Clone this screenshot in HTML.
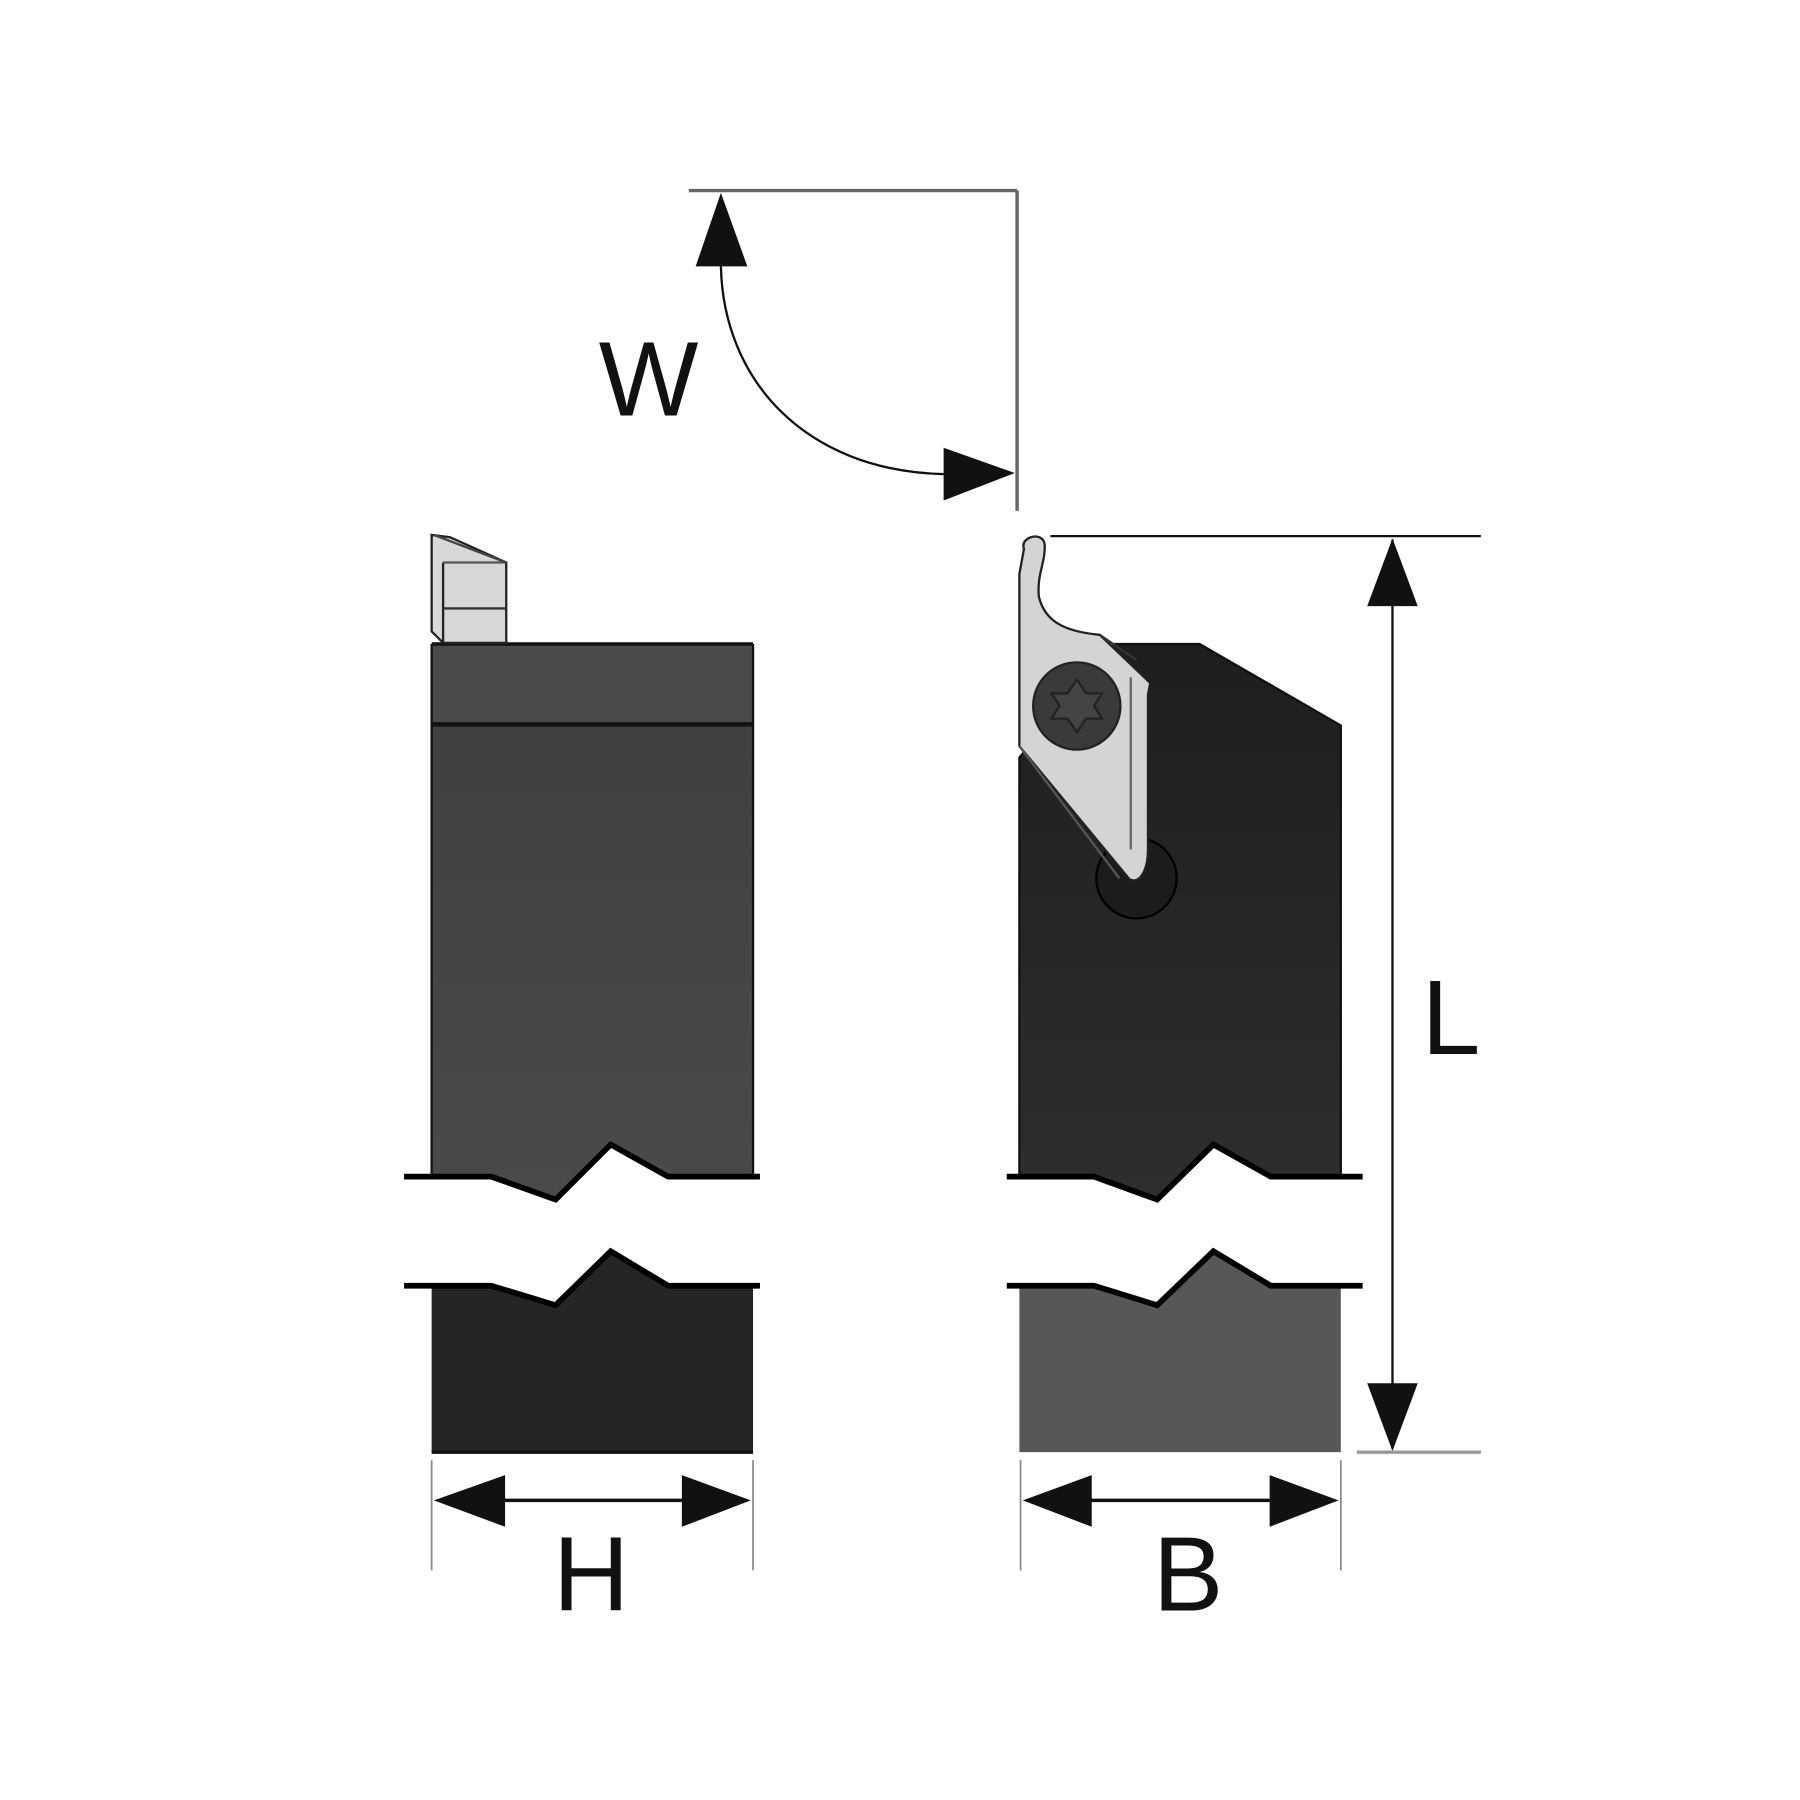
<!DOCTYPE html>
<html><head><meta charset="utf-8"><style>
html,body{margin:0;padding:0;background:#fff;}
svg{display:block;}
text{font-family:"Liberation Sans",sans-serif;fill:#111;}
</style></head><body>
<svg width="1800" height="1800" viewBox="0 0 1568 1568" xmlns="http://www.w3.org/2000/svg">
<defs>
<linearGradient id="gl" x1="0" y1="0" x2="0" y2="1"><stop offset="0" stop-color="#404040"/><stop offset="1" stop-color="#4a4a4a"/></linearGradient>
<linearGradient id="gr" x1="0" y1="0" x2="0" y2="1"><stop offset="0" stop-color="#1e1e1e"/><stop offset="1" stop-color="#2e2e2e"/></linearGradient>
</defs>
<!-- W dimension -->
<line x1="600" y1="166" x2="886" y2="166" stroke="#666" stroke-width="3"/>
<line x1="886" y1="166" x2="886" y2="445" stroke="#666" stroke-width="3"/>
<path d="M628,232 C630,330 700,410 822,413" fill="none" stroke="#111" stroke-width="2"/>
<polygon points="628,168 606,232 651,232" fill="#111"/>
<polygon points="884,412 822,390 822,436" fill="#111"/>
<text x="565" y="362" font-size="92" text-anchor="middle">W</text>

<!-- Left body upper -->
<rect x="376" y="561" width="280" height="70" fill="#4a4a4a"/>
<path d="M376,631 H656 V1025 H582 L532,997 L484,1045 L428,1025 H376 Z" fill="url(#gl)"/>
<line x1="376" y1="561" x2="656" y2="561" stroke="#111" stroke-width="3"/>
<line x1="376" y1="631" x2="656" y2="631" stroke="#111" stroke-width="4"/>
<line x1="376" y1="561" x2="376" y2="1025" stroke="#111" stroke-width="2"/>
<line x1="656" y1="561" x2="656" y2="1025" stroke="#111" stroke-width="2"/>
<polyline points="352,1025 428,1025 484,1045 532,997 582,1025 662,1025" fill="none" stroke="#000" stroke-width="5"/>
<!-- left insert -->
<polygon points="376,466 392,468 441,490 441,560 386,560 376,550" fill="#d8d8d8" stroke="#222" stroke-width="2"/>
<line x1="386" y1="490" x2="386" y2="560" stroke="#222" stroke-width="2"/>
<line x1="386" y1="490" x2="441" y2="490" stroke="#555" stroke-width="2"/>
<line x1="386" y1="530" x2="441" y2="530" stroke="#333" stroke-width="2"/>
<line x1="378" y1="466" x2="441" y2="490" stroke="#444" stroke-width="2"/>

<!-- Left lower -->
<path d="M376,1120 H428 L484,1137 L532,1090 L582,1120 H656 V1265 H376 Z" fill="#252525"/>
<polyline points="352,1120 428,1120 484,1137 532,1090 582,1120 662,1120" fill="none" stroke="#000" stroke-width="5"/>
<line x1="376" y1="1265" x2="656" y2="1265" stroke="#111" stroke-width="3"/>

<!-- Right body upper -->
<path d="M888,660 L970,561 H1045 L1168,632 V1025 H1107 L1057,997 L1008,1045 L953,1025 H888 Z" fill="url(#gr)" stroke="#111" stroke-width="2"/>
<polyline points="877,1025 953,1025 1008,1045 1057,997 1107,1025 1187,1025" fill="none" stroke="#000" stroke-width="5"/>
<!-- bottom ring -->
<circle cx="990" cy="765" r="35" fill="#1c1c1c" stroke="#000" stroke-width="2"/>
<!-- insert -->
<path d="M892,478 C888,468 908,462 910,474 C911,490 903,500 905,520 C910,540 925,550 958,553 L1002,595 L1000,605 L1000,740 C1000,760 992,770 984,766 L888,650 L888,500 Z" fill="#d4d4d4" stroke="#222" stroke-width="2"/>
<line x1="958" y1="553" x2="990" y2="575" stroke="#333" stroke-width="2"/>
<line x1="888" y1="650" x2="975" y2="765" stroke="#555" stroke-width="2"/>
<line x1="985" y1="590" x2="985" y2="740" stroke="#666" stroke-width="2"/>
<circle cx="938" cy="615" r="38" fill="#3a3a3a" stroke="#222" stroke-width="2"/>
<polygon points="938,592 946,604 960,604 953,615 960,626 946,626 938,638 930,626 916,626 923,615 916,604 930,604" fill="#444" stroke="#222" stroke-width="2"/>

<!-- Right lower -->
<path d="M888,1120 H953 L1008,1137 L1057,1090 L1107,1120 H1168 V1265 H888 Z" fill="#575757"/>
<polyline points="877,1120 953,1120 1008,1137 1057,1090 1107,1120 1187,1120" fill="none" stroke="#000" stroke-width="5"/>

<!-- L dimension -->
<line x1="915" y1="467" x2="1290" y2="467" stroke="#111" stroke-width="2"/>
<line x1="1182" y1="1265" x2="1290" y2="1265" stroke="#999" stroke-width="3"/>
<line x1="1213" y1="470" x2="1213" y2="1262" stroke="#111" stroke-width="2"/>
<polygon points="1213,469 1191,528 1235,528" fill="#111"/>
<polygon points="1213,1264 1191,1205 1235,1205" fill="#111"/>
<text x="1264" y="918" font-size="92" text-anchor="middle">L</text>

<!-- H dimension -->
<line x1="376" y1="1272" x2="376" y2="1368" stroke="#888" stroke-width="1.5"/>
<line x1="656" y1="1272" x2="656" y2="1368" stroke="#888" stroke-width="1.5"/>
<line x1="420" y1="1307" x2="612" y2="1307" stroke="#111" stroke-width="3"/>
<polygon points="378,1307 440,1285 440,1330" fill="#111"/>
<polygon points="654,1307 594,1285 594,1330" fill="#111"/>
<text x="515" y="1403" font-size="92" text-anchor="middle">H</text>

<!-- B dimension -->
<line x1="889" y1="1272" x2="889" y2="1368" stroke="#888" stroke-width="1.5"/>
<line x1="1168" y1="1272" x2="1168" y2="1368" stroke="#888" stroke-width="1.5"/>
<line x1="930" y1="1307" x2="1125" y2="1307" stroke="#111" stroke-width="3"/>
<polygon points="891,1307 951,1285 951,1330" fill="#111"/>
<polygon points="1166,1307 1106,1285 1106,1330" fill="#111"/>
<text x="1035" y="1403" font-size="92" text-anchor="middle">B</text>
</svg>
</body></html>
